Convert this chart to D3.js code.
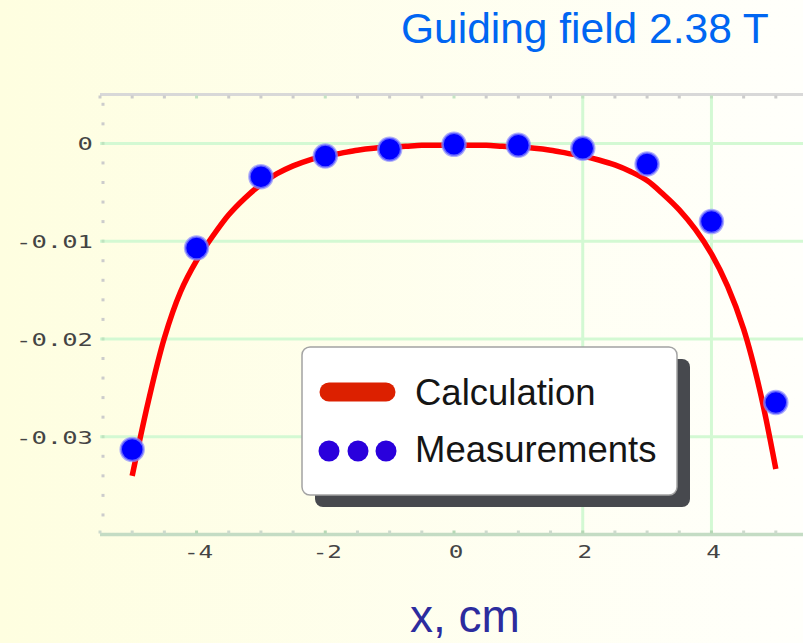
<!DOCTYPE html>
<html>
<head>
<meta charset="utf-8">
<script src="https://cdn.jsdelivr.net/npm/d3@7"></script>
<style>
  html, body { margin: 0; padding: 0; overflow: hidden; }
  svg { display: block; }
</style>
</head>
<body>
<svg id="chart" width="803" height="643"></svg>
<script>
// Measured points (x in cm, deviation)
const measX = [-5, -4, -3, -2, -1, 0, 1, 2, 3, 4, 5];
const measY = [-0.0313, -0.0107, -0.0034, -0.0013, -0.0006, -0.0001, -0.0002, -0.0005, -0.0021, -0.0080, -0.0265];

// Calculated curve
const calcX = [-5, -4.75, -4.5, -4.25, -4, -3.75, -3.5, -3.25, -3, -2.75, -2.5, -2.25, -2, -1.75, -1.5, -1.25, -1, -0.75, -0.5, -0.25,
               0, 0.25, 0.5, 0.75, 1, 1.25, 1.5, 1.75, 2, 2.25, 2.5, 2.75, 3, 3.25, 3.5, 3.75, 4, 4.25, 4.5, 4.75, 5];
const calcY = [-0.0340, -0.0264, -0.0199, -0.0152, -0.0120, -0.0095, -0.0073, -0.0056, -0.0042, -0.0031, -0.0023, -0.0017, -0.0013, -0.0010, -0.0007, -0.0005, -0.0004, -0.0003, -0.0002, -0.0002,
               -0.00015, -0.0002, -0.0002, -0.0003, -0.0004, -0.0005, -0.0007, -0.0010, -0.0013, -0.0017, -0.0022, -0.0029, -0.0038, -0.0052, -0.0068, -0.0088, -0.0113, -0.0146, -0.0190, -0.0252, -0.0333];

const xTicks = [-4, -2, 0, 2, 4];
const xTickLabels = ["-4", "-2", "0", "2", "4"];
const yTicks = [0, -0.01, -0.02, -0.03];
const yTickLabels = ["0", "-0.01", "-0.02", "-0.03"];
const xGridVisible = [2, 4];

const titleText = "Guiding field 2.38 T";
const xAxisTitle = "x, cm";
const legendLabels = ["Calculation", "Measurements"];

const svg = d3.select("#chart");
const W = 803, H = 643;

// page background: pale yellow fading to white
const defs = svg.append("defs");
const bg = defs.append("linearGradient").attr("id", "bg").attr("x1", 0).attr("x2", 1).attr("y1", 0).attr("y2", 0);
bg.append("stop").attr("offset", "0%").attr("stop-color", "#fefee0");
bg.append("stop").attr("offset", "100%").attr("stop-color", "#fffffb");
svg.append("rect").attr("width", W).attr("height", H).attr("fill", "url(#bg)");

const x = d3.scaleLinear().domain([-5.5, 5.5]).range([100, 808]);
const y = d3.scaleLinear().domain([-0.04, 0.005]).range([534.5, 94.5]);

const plot = svg.append("g");

// grid
plot.selectAll("line.hgrid").data(yTicks).join("line")
  .attr("x1", x(-5.5)).attr("x2", W)
  .attr("y1", d => y(d)).attr("y2", d => y(d))
  .attr("stroke", "#d3f9d3").attr("stroke-width", 3);
plot.selectAll("line.vgrid").data(xGridVisible).join("line")
  .attr("x1", d => x(d)).attr("x2", d => x(d))
  .attr("y1", y(0.005)).attr("y2", y(-0.04))
  .attr("stroke", "#d3f9d3").attr("stroke-width", 3);

// frame: top and bottom edges
plot.append("line").attr("x1", x(-5.5)).attr("x2", W).attr("y1", y(0.005)).attr("y2", y(0.005))
  .attr("stroke", "#d8d8d8").attr("stroke-width", 3);
plot.append("line").attr("x1", x(-5.5)).attr("x2", W).attr("y1", y(-0.04)).attr("y2", y(-0.04))
  .attr("stroke", "#c4dcc4").attr("stroke-width", 3.5);

// minor ticks along frame
const xMinor = d3.range(-5.5, 5.51, 0.5);
plot.selectAll("rect.bt").data(xMinor).join("rect")
  .attr("x", d => x(d) - 1.5).attr("y", y(-0.04) - 4).attr("width", 3).attr("height", 3)
  .attr("fill", d => Math.abs(d % 2) < 1e-9 ? "#b6d8b6" : "#cddacd");
plot.selectAll("rect.tt").data(xMinor).join("rect")
  .attr("x", d => x(d) - 1.5).attr("y", y(0.005) + 1).attr("width", 3).attr("height", 3)
  .attr("fill", d => Math.abs(d % 2) < 1e-9 ? "#c3e3c3" : "#cccccc");
const yMinor = d3.range(-0.038, 0.0041, 0.002);
plot.selectAll("rect.lt").data(yMinor).join("rect")
  .attr("x", x(-5.5) + 1.5).attr("y", d => y(d) - 1.5).attr("width", 3).attr("height", 3)
  .attr("fill", d => Math.abs(Math.round(d * 1000) % 10) === 0 ? "#bfe3bf" : "#cccccc");

// tick labels (wide monospaced lettering)
const tickFont = "'DejaVu Sans Mono', monospace";
svg.selectAll("text.xt").data(xTicks).join("text")
  .attr("transform", d => `translate(${x(d) + 2},558) scale(1.35,1)`)
  .attr("text-anchor", "middle")
  .attr("font-family", tickFont).attr("font-size", 18).attr("fill", "#444")
  .text((d, i) => xTickLabels[i]);
svg.selectAll("text.yt").data(yTicks).join("text")
  .attr("transform", d => `translate(93,${y(d) + 7}) scale(1.42,1)`)
  .attr("text-anchor", "end")
  .attr("font-family", tickFont).attr("font-size", 18).attr("fill", "#444")
  .text((d, i) => yTickLabels[i]);

// calculated curve
const calcPts = calcX.map((v, i) => [v, calcY[i]]);
plot.append("path").datum(calcPts)
  .attr("d", d3.line().x(d => x(d[0])).y(d => y(d[1])).curve(d3.curveCatmullRom))
  .attr("fill", "none").attr("stroke", "#ff0000").attr("stroke-width", 5.5)
  .attr("stroke-linecap", "butt");

// measured points
const measPts = measX.map((v, i) => [v, measY[i]]);
plot.selectAll("circle.m").data(measPts).join("circle")
  .attr("cx", d => x(d[0])).attr("cy", d => y(d[1])).attr("r", 11.5)
  .attr("fill", "#0000ff").attr("stroke", "#8c8cff").attr("stroke-opacity", 0.7).attr("stroke-width", 2.5);

// legend
const lg = svg.append("g").attr("transform", "translate(302,347)");
lg.append("rect").attr("x", 13).attr("y", 12).attr("width", 375).attr("height", 148).attr("rx", 8)
  .attr("fill", "#47494e");
lg.append("rect").attr("x", 0).attr("y", 0).attr("width", 375).attr("height", 148).attr("rx", 8)
  .attr("fill", "#ffffff").attr("stroke", "#a3a3a3").attr("stroke-width", 1.5);
lg.append("line").attr("x1", 27).attr("x2", 84).attr("y1", 45).attr("y2", 45)
  .attr("stroke", "#dc2000").attr("stroke-width", 19).attr("stroke-linecap", "round");
lg.selectAll("circle").data([27, 56, 84]).join("circle")
  .attr("cx", d => d).attr("cy", 104).attr("r", 10.5).attr("fill", "#2a00dc");
lg.selectAll("text").data(legendLabels).join("text")
  .attr("x", 113).attr("y", (d, i) => 58 + i * 57)
  .attr("font-family", "'Liberation Sans', Arial, sans-serif").attr("font-size", 36.5)
  .attr("fill", "#151515").text(d => d);

// title and axis title
svg.append("text").attr("x", 401).attr("y", 43)
  .attr("font-family", "'Liberation Sans', Arial, sans-serif").attr("font-size", 42.5)
  .attr("fill", "#0066f2").text(titleText);
svg.append("text").attr("x", 410).attr("y", 632)
  .attr("font-family", "'Liberation Sans', Arial, sans-serif").attr("font-size", 46)
  .attr("fill", "#2c2c9e").text(xAxisTitle);
</script>
</body>
</html>
